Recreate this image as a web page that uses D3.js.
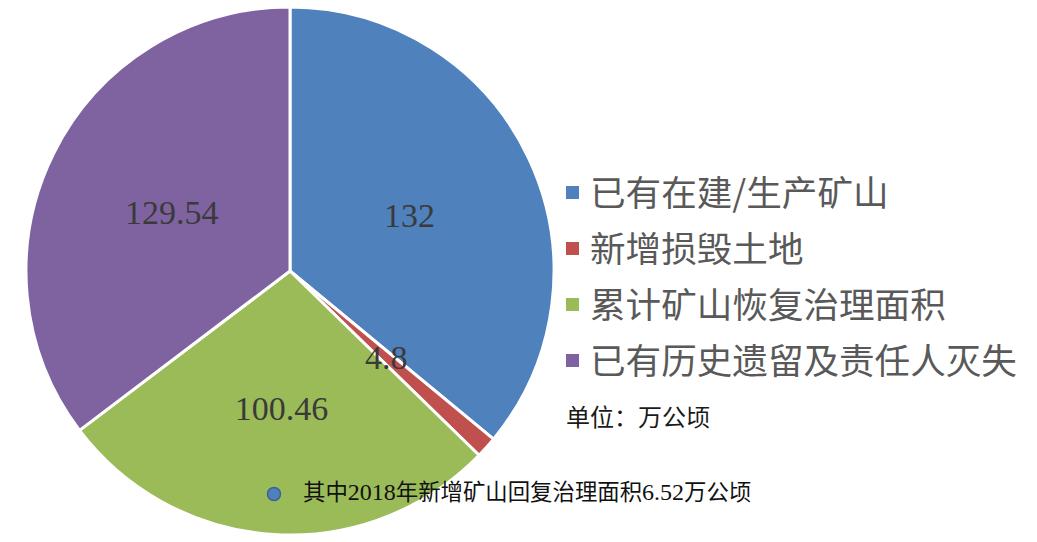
<!DOCTYPE html>
<html>
<head>
<meta charset="utf-8">
<script src="https://cdn.jsdelivr.net/npm/d3@7"></script>
<style>
  body { margin: 0; background: #fff; }
</style>
</head>
<body>
<div id="chart-area"></div>
<script>
// data
var categories = ['已有在建/生产矿山', '新增损毁土地', '累计矿山恢复治理面积', '已有历史遗留及责任人灭失'];
var values = [132, 4.8, 100.46, 129.54];
var valueLabels = ['132', '4.8', '100.46', '129.54'];
var colors = ['#4F81BD', '#C0504D', '#9BBB59', '#7F63A1'];
var unitText = '单位：万公顷';
var notePieces = [['其中', 'cjk'], ['2018', 'num'], ['年新增矿山回复治理面积', 'cjk'], ['6.52', 'num'], ['万公顷', 'cjk']];

var width = 1037, height = 542;
var cx = 290, cy = 271, radius = 264;

var svg = d3.select('#chart-area').append('svg')
    .attr('width', width)
    .attr('height', height);

var g = svg.append('g')
    .attr('transform', 'translate(' + cx + ',' + cy + ')');

var pie = d3.pie().sort(null).value(d => d);
var arc = d3.arc().innerRadius(0).outerRadius(radius);
var arcs = pie(values);

g.selectAll('path.slice')
    .data(arcs)
    .enter().append('path')
    .attr('class', 'slice')
    .attr('d', arc)
    .attr('fill', (d, i) => colors[i])
    .attr('stroke', '#fff')
    .attr('stroke-width', 3)
    .attr('stroke-linejoin', 'round');

// value labels - placed along each slice's mid angle
var labelRadius = [0.50, 0.49, 0.52, 0.50];
g.selectAll('text.value')
    .data(arcs)
    .enter().append('text')
    .attr('class', 'value')
    .attr('transform', (d, i) => {
        var a = (d.startAngle + d.endAngle) / 2;
        var r = radius * labelRadius[i];
        return 'translate(' + (Math.sin(a) * r) + ',' + (-Math.cos(a) * r) + ')';
    })
    .attr('text-anchor', 'middle')
    .attr('dy', '0.35em')
    .attr('fill', '#3a3a3a')
    .style('font-family', '"Liberation Serif", "Times New Roman", serif')
    .style('font-size', '34px')
    .text((d, i) => valueLabels[i]);

// legend
var legend = svg.append('g').attr('transform', 'translate(566,193)');
var rowH = 56;
var rows = legend.selectAll('g.row')
    .data(categories)
    .enter().append('g')
    .attr('class', 'row')
    .attr('transform', (d, i) => 'translate(0,' + (i * rowH) + ')');
rows.append('rect')
    .attr('x', 0).attr('y', -7)
    .attr('width', 13).attr('height', 13)
    .attr('fill', (d, i) => colors[i]);
rows.append('text')
    .attr('x', 24)
    .attr('dy', '0.36em')
    .attr('fill', '#595959')
    .style('font-family', '"Noto Sans CJK SC", sans-serif')
    .style('font-size', '35.6px')
    .text(d => d);

svg.append('text')
    .attr('x', 566)
    .attr('y', 417)
    .attr('dy', '0.36em')
    .attr('fill', '#1a1a1a')
    .style('font-family', '"Noto Sans CJK SC", sans-serif')
    .style('font-size', '24px')
    .text(unitText);

// bottom note
svg.append('circle')
    .attr('cx', 274).attr('cy', 494).attr('r', 6.5)
    .attr('fill', '#4F81BD')
    .attr('stroke', '#3a6496')
    .attr('stroke-width', 1.5);

var note = svg.append('text')
    .attr('x', 303)
    .attr('y', 494)
    .attr('dy', '0.36em')
    .attr('fill', '#111');
note.selectAll('tspan')
    .data(notePieces)
    .enter().append('tspan')
    .style('font-family', d => d[1] === 'num' ? '"Liberation Serif", "Times New Roman", serif' : '"Noto Sans CJK SC", sans-serif')
    .style('font-size', d => d[1] === 'num' ? '24px' : '22.4px')
    .text(d => d[0]);
</script>
</body>
</html>
